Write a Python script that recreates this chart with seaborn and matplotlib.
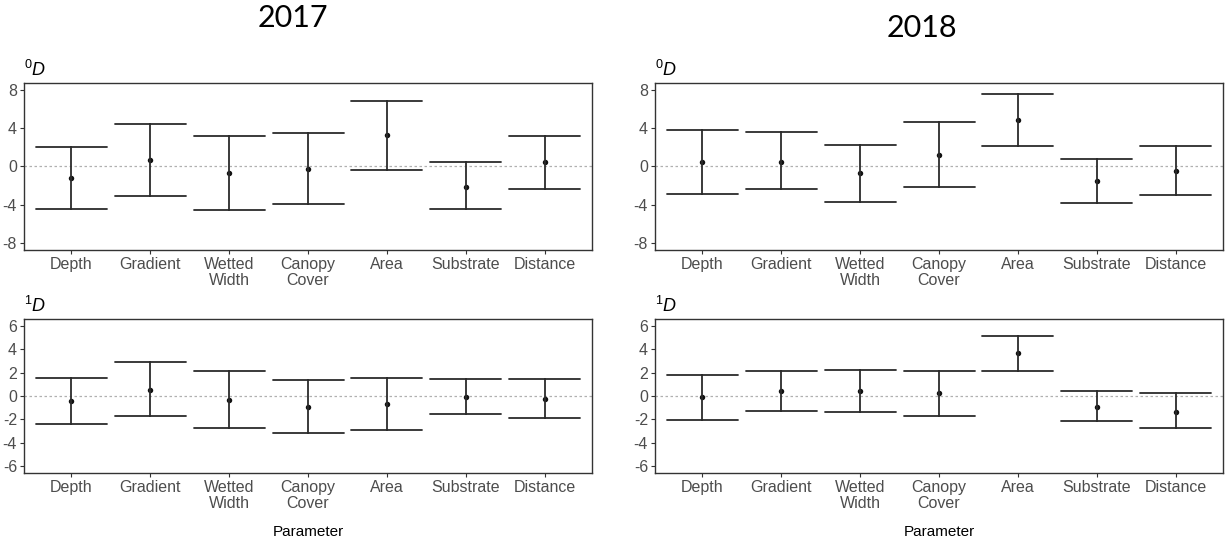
import numpy as np
import pandas as pd
import matplotlib
matplotlib.use("Agg")
import matplotlib.pyplot as plt
import seaborn as sns

# Model parameters (x axis)
parameters = ["Depth", "Gradient", "Wetted\nWidth", "Canopy\nCover", "Area", "Substrate", "Distance"]

# Estimates with lower / upper interval limits for each year and diversity order
d0_2017_mid = [-1.22, 0.63, -0.66, -0.24, 3.27, -2.09, 0.42]
d0_2017_lo = [-4.42, -3.03, -4.52, -3.93, -0.35, -4.45, -2.30]
d0_2017_hi = [2.02, 4.45, 3.20, 3.44, 6.78, 0.52, 3.20]

d0_2018_mid = [0.48, 0.52, -0.69, 1.21, 4.83, -1.52, -0.45]
d0_2018_lo = [-2.90, -2.34, -3.72, -2.14, 2.17, -3.79, -3.00]
d0_2018_hi = [3.79, 3.55, 2.28, 4.66, 7.52, 0.79, 2.17]

d1_2017_mid = [-0.43, 0.54, -0.34, -0.91, -0.71, -0.09, -0.23]
d1_2017_lo = [-2.40, -1.69, -2.77, -3.17, -2.91, -1.54, -1.89]
d1_2017_hi = [1.54, 2.94, 2.11, 1.40, 1.51, 1.43, 1.43]

d1_2018_mid = [-0.11, 0.40, 0.43, 0.23, 3.66, -0.91, -1.34]
d1_2018_lo = [-2.06, -1.26, -1.37, -1.71, 2.17, -2.17, -2.77]
d1_2018_hi = [1.83, 2.11, 2.20, 2.14, 5.17, 0.43, 0.23]

years = ["2017", "2018"]
d0_ticks = [-8, -4, 0, 4, 8]
d1_ticks = [-6, -4, -2, 0, 2, 4, 6]

sns.set_theme(style="white")
plt.rcParams["font.family"] = ["Liberation Sans", "DejaVu Sans"]
plt.rcParams["mathtext.fontset"] = "custom"
plt.rcParams["mathtext.rm"] = "Liberation Sans"
plt.rcParams["mathtext.it"] = "Liberation Sans:italic"

W, H = 1225, 544
fig = plt.figure(figsize=(W / 100, H / 100), dpi=100)


def px_axes(x0, x1, y0, y1):
    return fig.add_axes([x0 / W, 1 - y1 / H, (x1 - x0) / W, (y1 - y0) / H])


def long_form(lo, mid, hi):
    rows = []
    for p, a, m, b in zip(parameters, lo, mid, hi):
        for v in (a, m, b):
            rows.append({"Parameter": p, "value": v})
    return pd.DataFrame(rows)


def panel(ax, lo, mid, hi, ticks, lim, label, xlabel):
    df = long_form(lo, mid, hi)
    sns.pointplot(
        data=df, x="Parameter", y="value", order=parameters,
        estimator="median", errorbar=("pi", 100), capsize=0.9,
        linestyle="none", color="#111111", markersize=1.9,
        err_kws={"linewidth": 1.3, "color": "#2b2b2b"}, ax=ax,
    )
    ax.axhline(0, color="#b0b0b0", linestyle=(0, (2, 2)), linewidth=0.9, zorder=0)
    ax.set_xlim(-0.6, len(parameters) - 0.4)
    ax.set_ylim(-lim, lim)
    ax.set_yticks(ticks)
    ax.set_yticklabels([str(t) for t in ticks])
    ax.set_xlabel(xlabel, fontsize=11, color="black", labelpad=10)
    ax.set_ylabel("")
    ax.tick_params(axis="both", which="both", length=3, width=0.8, color="#333333",
                   labelsize=11.5, labelcolor="#4D4D4D", pad=2, direction="out",
                   bottom=True, left=True)
    for lbl in ax.get_xticklabels():
        lbl.set_linespacing(1.1)
    for s in ax.spines.values():
        s.set_color("#333333")
        s.set_linewidth(1.0)
    ax.text(0.0, 1.02, label, transform=ax.transAxes, ha="left", va="bottom",
            fontsize=13, color="black")


ax_tl = px_axes(24, 592, 83, 250)
ax_tr = px_axes(655, 1223, 83, 250)
ax_bl = px_axes(24, 592, 319, 473)
ax_br = px_axes(655, 1223, 319, 473)

panel(ax_tl, d0_2017_lo, d0_2017_mid, d0_2017_hi, d0_ticks, 8.7, r"$^{0}\mathit{D}$", "")
panel(ax_tr, d0_2018_lo, d0_2018_mid, d0_2018_hi, d0_ticks, 8.7, r"$^{0}\mathit{D}$", "")
panel(ax_bl, d1_2017_lo, d1_2017_mid, d1_2017_hi, d1_ticks, 6.6, r"$^{1}\mathit{D}$", "Parameter")
panel(ax_br, d1_2018_lo, d1_2018_mid, d1_2018_hi, d1_ticks, 6.6, r"$^{1}\mathit{D}$", "Parameter")

fig.text(293 / W, 1 - 18 / H, years[0], ha="center", va="center", fontsize=22,
         family=["Lato", "DejaVu Sans"], color="black")
fig.text(922 / W, 1 - 28 / H, years[1], ha="center", va="center", fontsize=22,
         family=["Lato", "DejaVu Sans"], color="black")

fig.savefig("out.png", dpi=100)
